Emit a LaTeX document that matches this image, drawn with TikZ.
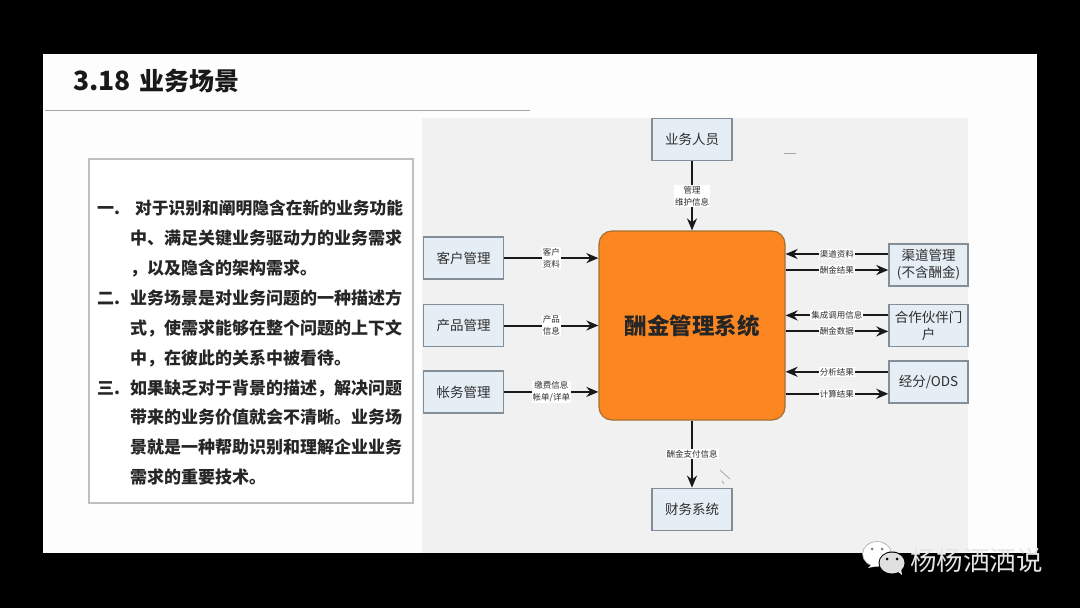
\documentclass[tikz,border=0pt]{standalone}
\usepackage{fontspec}
\setmainfont{Noto Sans CJK SC}
\usetikzlibrary{arrows.meta,positioning}
\definecolor{cSlide}{HTML}{FDFDFD}
\definecolor{cPanel}{HTML}{F1F1F1}
\definecolor{cBox}{HTML}{E6EEF5}
\definecolor{cEdge}{HTML}{848E98}
\definecolor{cSys}{HTML}{FB8622}
\definecolor{cSysEdge}{HTML}{A5702F}
\definecolor{cInk}{HTML}{2E2E2E}
\newcommand{\pxfont}[2]{\fontsize{#1}{#2}\selectfont}
\tikzset{
  unit/.style  = {draw=cEdge, fill=cBox, line width=1.4pt, align=center, text=cInk,
                  minimum width=80pt, minimum height=42pt, inner sep=1pt,
                  font=\pxfont{13.5}{17}},
  core/.style  = {draw=cSysEdge, fill=cSys, line width=1.2pt, rounded corners=13pt,
                  minimum width=186pt, minimum height=189pt,
                  font=\pxfont{22.5}{26}\bfseries, text=black!85},
  flow/.style  = {-{Stealth[length=12pt,width=10pt]}, line width=2pt, draw=black!90},
  info/.style  = {fill=white, inner sep=1pt, align=center, text=cInk,
                  font=\pxfont{8.5}{12}},
  stray/.style = {draw=black!35, line width=0.8pt},
}
\begin{document}
\begin{tikzpicture}[x=1pt, y=-1pt, node distance=25pt and 94pt]
  \useasboundingbox (0,0) rectangle (1080,608);
  % ---- slide ----
  \fill[black] (0,0) rectangle (1080,608);
  \fill[cSlide] (43,54) rectangle (1037,553);
  \fill[cPanel] (422,118) rectangle (968,553);
  \node[anchor=west, inner sep=0pt, font=\pxfont{26.5}{30}\bfseries, text=black!90] (title)
    at (73,81) {3.18\hspace{9pt}\pxfont{25}{30}业务场景};
  \draw[black!35, line width=0.8pt] (45,110) -- (530,110);
  % ---- text column ----
  \node[draw=black!25, fill=white, line width=1.8pt, minimum width=324pt, minimum height=344pt,
        anchor=north west] (frame) at (88,158) {};
  \node[anchor=north west, inner sep=0pt, align=left, text=black!85,
        font=\pxfont{17}{29.9}\bfseries] (notes) at (97,200)
    {\makebox[38pt][l]{一.}{\pxfont{16.75}{29.9}对于识别和阐明隐含在新的业务功能}\\
     \makebox[33pt][l]{}中、满足关键业务驱动力的业务需求\\
     \makebox[33pt][l]{}，以及隐含的架构需求。\\
     \makebox[33pt][l]{二.}业务场景是对业务问题的一种描述方\\
     \makebox[33pt][l]{}式，使需求能够在整个问题的上下文\\
     \makebox[33pt][l]{}中，在彼此的关系中被看待。\\
     \makebox[33pt][l]{三.}如果缺乏对于背景的描述，解决问题\\
     \makebox[33pt][l]{}带来的业务价值就会不清晰。业务场\\
     \makebox[33pt][l]{}景就是一种帮助识别和理解企业业务\\
     \makebox[33pt][l]{}需求的重要技术。};
  % ---- diagram ----
  \node[core] (sys) at (692,325.5) {酬金管理系统};
  \node[unit, above=69pt of sys] (staff) {业务人员};
  \node[unit, below=67pt of sys] (finance) {财务系统};
  \node[unit, left=94pt of sys] (product) {产品管理};
  \node[unit, above=24pt of product] (customer) {客户管理};
  \node[unit, below=23pt of product] (account) {帐务管理};
  \node[unit, minimum width=79pt] (channel) at (928.5,265) {渠道管理\\(不含酬金)};
  \node[unit, minimum width=79pt, below=17pt of channel] (partner) {合作伙伴门\\户};
  \node[unit, minimum width=79pt, below=13pt of partner] (ods) {经分/ODS};
  % ---- arrows ----
  \draw[flow] (staff) -- node[info] {管理\\维护信息} (sys);
  \draw[flow] (customer) -- node[info] {客户\\资料} (customer -| sys.west);
  \draw[flow] (product) -- node[info] {产品\\信息} (product -| sys.west);
  \draw[flow] (account) -- node[info] {缴费信息\\帐单/详单} (account -| sys.west);
  \draw[flow] (sys) -- node[info] {酬金支付信息} (finance);
  \draw[flow] ([yshift=11pt]channel.west) -- node[info] {渠道资料}
    ([yshift=11pt]channel.west -| sys.east);
  \draw[flow] ([yshift=-5pt]channel.west -| sys.east) -- node[info] {酬金结果}
    ([yshift=-5pt]channel.west);
  \draw[flow] ([yshift=10pt]partner.west) -- node[info] {集成调用信息}
    ([yshift=10pt]partner.west -| sys.east);
  \draw[flow] ([yshift=-6pt]partner.west -| sys.east) -- node[info] {酬金数据}
    ([yshift=-6pt]partner.west);
  \draw[flow] ([yshift=10pt]ods.west) -- node[info] {分析结果}
    ([yshift=10pt]ods.west -| sys.east);
  \draw[flow] ([yshift=-12pt]ods.west -| sys.east) -- node[info] {计算结果}
    ([yshift=-12pt]ods.west);
  % ---- stray marks ----
  \draw[stray] (784,153) -- (796,153);
  \draw[stray] (720,470) -- (730,479);
  \draw[stray] (722,481) -- (724,484);
  % ---- watermark ----
  \fill[black!30] (877,554) ellipse (14.8pt and 12.8pt);
  \fill[white] (877,554) ellipse (14pt and 12pt);
  \fill[white] (872,564) -- (868,568) -- (877,566) -- cycle;
  \fill[black] (892,563) ellipse (13.5pt and 11.5pt);
  \fill[black!12] (892,563) ellipse (12.5pt and 10.5pt);
  \fill[black!12] (897,571) -- (902,575) -- (901,568) -- cycle;
  \fill[black!50] (872,549) circle (1.5pt) (882,549) circle (1.5pt);
  \fill[black] (887,559) circle (1.5pt) (897,559) circle (1.5pt);
  \node[anchor=west, inner sep=0pt, text=white!90!black, font=\pxfont{26.5}{30}] (brand)
    at (910,560) {杨杨洒洒说};
\end{tikzpicture}
\end{document}
